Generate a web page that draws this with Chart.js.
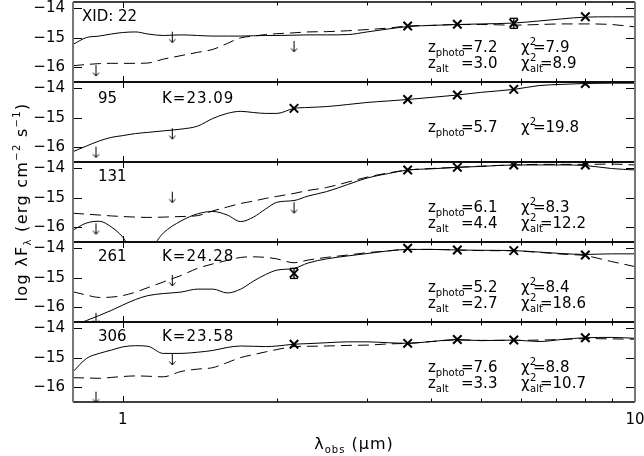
<!DOCTYPE html>
<html>
<head>
<meta charset="utf-8">
<script src="https://cdn.jsdelivr.net/npm/chart.js@4.4.1/dist/chart.umd.min.js"></script>
<style>
  html, body { margin: 0; padding: 0; background: #fff; }
  #wrap { width: 644px; height: 456px; }
</style>
</head>
<body>
<div id="wrap"><canvas id="sed" width="644" height="456"></canvas></div>
<script>
// wavelength grid of the template fits (micron)
const modelLam = [0.8, 0.85, 0.9, 0.95, 1.0, 1.06, 1.12, 1.2, 1.3, 1.4, 1.5, 1.6, 1.7, 1.8, 1.9, 2.0,
  2.16, 2.3, 2.5, 2.75, 3.0, 3.3, 3.6, 4.0, 4.5, 5.0, 5.8, 6.5, 7.2, 8.0, 9.0, 10];

// best fit (solid) and alternative fit (dashed), log lambda F_lambda
const fit22 = [-15.23, -15.00, -14.95, -14.88, -14.83, -14.81, -14.88, -14.93, -14.91, -14.93, -14.95, -14.95, -14.95, -14.94, -14.93, -14.93,
  -14.92, -14.91, -14.91, -14.90, -14.81, -14.71, -14.63, -14.59, -14.56, -14.54, -14.51, -14.44, -14.37, -14.31, -14.30, -14.30];
const alt22 = [-15.95, -15.91, -15.88, -15.87, -15.87, -15.87, -15.86, -15.73, -15.61, -15.50, -15.40, -15.20, -15.01, -14.95, -14.90, -14.87,
  -14.84, -14.81, -14.80, -14.77, -14.73, -14.68, -14.61, -14.59, -14.56, -14.56, -14.58, -14.56, -14.54, -14.54, -14.56, -14.64];
const fit95 = [-16.15, -15.96, -15.79, -15.67, -15.61, -15.54, -15.50, -15.45, -15.39, -15.29, -15.03, -14.86, -14.79, -14.83, -14.86, -14.86,
  -14.69, -14.66, -14.63, -14.56, -14.49, -14.44, -14.39, -14.32, -14.24, -14.15, -14.05, -13.92, -13.88, -13.85, -13.84, -13.84];
const fit131 = [-16.10, -15.86, -15.80, -15.99, -16.33, -16.94, -16.84, -16.20, -15.79, -15.55, -15.47, -15.59, -15.81, -15.66, -15.39, -15.16,
  -15.10, -14.95, -14.80, -14.56, -14.34, -14.19, -14.07, -14.03, -13.98, -13.95, -13.90, -13.90, -13.90, -13.92, -14.02, -14.07];
const alt131 = [-15.53, -15.56, -15.59, -15.62, -15.64, -15.66, -15.67, -15.66, -15.64, -15.61, -15.45, -15.32, -15.20, -15.12, -15.03, -14.96,
  -14.86, -14.76, -14.66, -14.48, -14.31, -14.17, -14.07, -14.02, -13.98, -13.94, -13.90, -13.88, -13.88, -13.88, -13.87, -13.90];
const fit261 = [-16.62, -16.45, -16.28, -16.11, -15.93, -15.74, -15.61, -15.54, -15.49, -15.39, -15.39, -15.52, -15.39, -15.12, -14.90, -14.75,
  -14.69, -14.51, -14.37, -14.27, -14.19, -14.10, -14.05, -14.05, -14.07, -14.08, -14.09, -14.14, -14.19, -14.22, -14.20, -14.20];
const alt261 = [-15.48, -15.59, -15.67, -15.66, -15.61, -15.49, -15.34, -15.15, -14.93, -14.69, -14.54, -14.42, -14.32, -14.30, -14.32, -14.37,
  -14.50, -14.41, -14.32, -14.24, -14.16, -14.10, -14.05, -14.05, -14.07, -14.09, -14.10, -14.15, -14.21, -14.26, -14.46, -14.63];
const fit306 = [-15.48, -15.03, -14.86, -14.75, -14.64, -14.60, -14.62, -14.86, -14.86, -14.82, -14.76, -14.66, -14.61, -14.62, -14.63, -14.61,
  -14.55, -14.53, -14.50, -14.47, -14.47, -14.50, -14.52, -14.46, -14.39, -14.43, -14.41, -14.46, -14.39, -14.33, -14.32, -14.35];
const alt306 = [-15.68, -15.69, -15.70, -15.67, -15.64, -15.62, -15.63, -15.65, -15.47, -15.39, -15.34, -15.17, -15.00, -14.90, -14.81, -14.73,
  -14.63, -14.62, -14.61, -14.59, -14.58, -14.54, -14.52, -14.46, -14.41, -14.42, -14.42, -14.41, -14.39, -14.36, -14.37, -14.38];

// photometry: detections (x), errors, upper limits (arrows)
const detLam = [[3.6, 4.5, 5.8, 8.0], [2.16, 3.6, 4.5, 5.8, 8.0], [3.6, 4.5, 5.8, 8.0], [2.16, 3.6, 4.5, 5.8, 8.0], [2.16, 3.6, 4.5, 5.8, 8.0]];
const detVal = [[-14.61, -14.55, -14.52, -14.30], [-14.69, -14.39, -14.24, -14.05, -13.85], [-14.07, -13.98, -13.90, -13.90],
  [-14.86, -14.01, -14.07, -14.09, -14.24], [-14.55, -14.52, -14.39, -14.41, -14.33]];
const detErr = [[0, 0, 0.17, 0], [0, 0, 0, 0, 0], [0, 0, 0, 0], [0.17, 0, 0, 0, 0], [0, 0, 0, 0, 0]];
const limLam = [[0.887, 1.25, 2.16], [0.887, 1.25], [0.887, 1.25, 2.16], [0.887, 1.25], [0.887, 1.25]];
const limVal = [[-15.93, -14.80, -15.11], [-15.98, -15.36], [-15.87, -14.80, -15.16], [-16.19, -14.91], [-16.15, -14.88]];

// panel texts
const srcIds = ['XID: 22', '95', '131', '261', '306'];
const kMags = ['', 'K=23.09', '', 'K=24.28', 'K=23.58'];
const zPhoto = ['7.2', '5.7', '6.1', '5.2', '7.6'];
const chi2 = ['7.9', '19.8', '8.3', '8.4', '8.8'];
const zAlt = ['3.0', '', '4.4', '2.7', '3.3'];
const chi2Alt = ['8.9', '', '12.2', '18.6', '10.7'];

// axes
const yTicks = [-16, -15, -14];
const xLabelTicks = [1, 10];
const xTickMarks = [1, 2, 3, 4, 5, 6, 7, 8, 9, 10];
const yMin = -16.5, yMax = -13.8;

const FONT = 'DejaVu Sans';
const fits = [fit22, fit95, fit131, fit261, fit306];
const alts = [alt22, null, alt131, alt261, alt306];

function arrowImg() {
  const c = document.createElement('canvas');
  c.width = 11; c.height = 24;
  const g = c.getContext('2d');
  g.strokeStyle = '#000'; g.lineWidth = 1;
  g.beginPath();
  g.moveTo(5.5, 12); g.lineTo(5.5, 23);
  g.moveTo(2.5, 19.5); g.lineTo(5.5, 23); g.lineTo(8.5, 19.5);
  g.stroke();
  return c;
}
const arrow = arrowImg();

const datasets = [];
fits.forEach((fit, i) => {
  datasets.push({
    data: modelLam.map((l, k) => ({ x: l, y: fit[k] })),
    yAxisID: 'y' + i, borderColor: '#000', borderWidth: 1, pointRadius: 0,
    cubicInterpolationMode: 'monotone', clipPanel: true
  });
  if (alts[i]) {
    datasets.push({
      data: modelLam.map((l, k) => ({ x: l, y: alts[i][k] })),
      yAxisID: 'y' + i, borderColor: '#000', borderWidth: 1, borderDash: [11, 6], pointRadius: 0,
      cubicInterpolationMode: 'monotone', clipPanel: true
    });
  }
  datasets.push({
    data: detLam[i].map((l, k) => ({ x: l, y: detVal[i][k] })),
    yAxisID: 'y' + i, showLine: false, pointStyle: 'crossRot', pointRadius: 6,
    pointBorderWidth: 2, pointBorderColor: '#000', borderColor: '#000'
  });
  datasets.push({
    data: limLam[i].map((l, k) => ({ x: l, y: limVal[i][k] })),
    yAxisID: 'y' + i, showLine: false, pointStyle: arrow, pointRadius: 6
  });
});

const scales = {
  x: {
    type: 'logarithmic', position: 'bottom', min: 0.8, max: 10,
    grid: { display: false, drawTicks: false }, border: { display: false },
    afterBuildTicks: s => { s.ticks = xLabelTicks.map(v => ({ value: v })); },
    afterFit: s => { s.height = 54; s.paddingLeft = 0; s.paddingRight = 0; },
    ticks: { callback: v => String(v), color: '#000', font: { family: FONT, size: 15 }, padding: 9, autoSkip: false, maxRotation: 0 }
  }
};
fits.forEach((f, i) => {
  scales['y' + i] = {
    type: 'linear', position: 'left', stack: 'sed', stackWeight: 1, weight: 5 - i, offset: false,
    min: yMin, max: yMax,
    grid: { display: false, drawTicks: false }, border: { display: false },
    afterBuildTicks: s => { s.ticks = yTicks.map(v => ({ value: v })); },
    afterFit: s => { s.width = 73; s.paddingTop = 0; s.paddingBottom = 0; },
    ticks: { display: false }
  };
});

// clip each model curve to its own panel
const panelClip = {
  id: 'panelClip',
  beforeDatasetDraw(chart, args) {
    if (!chart.data.datasets[args.index].clipPanel) return;
    const ys = args.meta.yScale, a = chart.chartArea, ctx = chart.ctx;
    ctx.save();
    ctx.beginPath();
    ctx.rect(a.left, ys.top, a.right - a.left, ys.bottom - ys.top);
    ctx.clip();
  },
  afterDatasetDraw(chart, args) {
    if (chart.data.datasets[args.index].clipPanel) chart.ctx.restore();
  }
};

function rich(ctx, parts, x, y) {
  let cx = x;
  parts.forEach(([t, size, dy]) => {
    ctx.font = size + 'px "' + FONT + '"';
    ctx.fillText(t, cx, y + dy);
    cx += ctx.measureText(t).width;
  });
  return cx;
}
function richWidth(ctx, parts) {
  let w = 0;
  parts.forEach(([t, size]) => { ctx.font = size + 'px "' + FONT + '"'; w += ctx.measureText(t).width; });
  return w;
}

const decor = {
  id: 'decor',
  afterDatasetsDraw(chart) {
    const ctx = chart.ctx, xs = chart.scales.x, a = chart.chartArea;
    const L = a.left, R = a.right;
    ctx.save();
    ctx.fillStyle = '#000';
    ctx.textBaseline = 'alphabetic';
    ctx.textAlign = 'left';
    const line = (x1, y1, x2, y2) => { ctx.beginPath(); ctx.moveTo(x1, y1); ctx.lineTo(x2, y2); ctx.stroke(); };
    for (let i = 0; i < 5; i++) {
      const ys = chart.scales['y' + i];
      const top = ys.top, bot = ys.bottom;
      // ticks and tick labels
      ctx.strokeStyle = '#000'; ctx.lineWidth = 1;
      xTickMarks.forEach(v => {
        const px = Math.round(xs.getPixelForValue(v)) + 0.5;
        const len = xLabelTicks.includes(v) ? 6 : 3.5;
        line(px, top, px, top + len);
        line(px, bot, px, bot - len);
      });
      ctx.font = '15px "' + FONT + '"';
      ctx.textAlign = 'right';
      ctx.textBaseline = 'middle';
      yTicks.forEach(v => {
        const py = Math.round(ys.getPixelForValue(v)) + 0.5;
        line(L, py, L + 9, py);
        line(R, py, R - 9, py);
        ctx.fillText('\u2212' + Math.abs(v), L - 8, py);
      });
      ctx.textAlign = 'left';
      ctx.textBaseline = 'alphabetic';
      // error bars
      ctx.lineWidth = 1.3;
      detErr[i].forEach((e, k) => {
        if (!e) return;
        const px = xs.getPixelForValue(detLam[i][k]);
        const y1 = ys.getPixelForValue(detVal[i][k] + e), y2 = ys.getPixelForValue(detVal[i][k] - e);
        line(px, y1, px, y2);
        line(px - 4, y1, px + 4, y1);
        line(px - 4, y2, px + 4, y2);
      });
      // frame
      ctx.strokeStyle = '#000'; ctx.lineWidth = 1.3;
      line(L, top, R, top);
      line(L, bot, R, bot);
      // texts
      ctx.font = '15px "' + FONT + '"';
      ctx.fillText(srcIds[i], i === 0 ? 82 : 98, top + (i === 1 ? 21 : 19));
      if (kMags[i]) {
        ctx.letterSpacing = '1px';
        ctx.fillText(kMags[i], 162, top + (i === 1 ? 21 : 19));
        ctx.letterSpacing = '0px';
      }
      const b1 = top + 50, b2 = top + 66;
      rich(ctx, [['z', 15, 0], ['photo', 10, 4]], 428, b1);
      rich(ctx, [['=' + zPhoto[i], 15, 0]], 461, b1);
      rich(ctx, [['\u03c7', 15, 0], ['2', 10, -7]], 521, b1);
      rich(ctx, [['=' + chi2[i], 15, 0]], 533, b1);
      if (zAlt[i]) {
        rich(ctx, [['z', 15, 0], ['alt', 10, 4]], 428, b2);
        rich(ctx, [['=' + zAlt[i], 15, 0]], 461, b2);
        rich(ctx, [['\u03c7', 15, 0]], 521, b2);
        rich(ctx, [['2', 10, -7]], 530, b2);
        rich(ctx, [['alt', 10, 4]], 530, b2);
        rich(ctx, [['=' + chi2Alt[i], 15, 0]], 540, b2);
      }
    }
    // side borders
    ctx.strokeStyle = '#777'; ctx.lineWidth = 2;
    line(L, a.top, L, a.bottom);
    line(R, a.top, R, a.bottom);
    // x title
    ctx.letterSpacing = '1px';
    const xt = [['\u03bb', 16, 0], ['obs', 10, 4], [' (', 16, 0], ['\u03bc', 16, 0], ['m)', 16, 0]];
    rich(ctx, xt, (L + R) / 2 - richWidth(ctx, xt) / 2, 449);
    // y title
    ctx.letterSpacing = '1.3px';
    const yt = [['log \u03bbF', 16, 0], ['\u03bb', 10, 4], [' (erg cm', 16, 0], ['\u22122', 10, -7], [' s', 16, 0], ['\u22121', 10, -7], [')', 16, 0]];
    ctx.translate(27, (a.top + a.bottom) / 2);
    ctx.rotate(-Math.PI / 2);
    rich(ctx, yt, -richWidth(ctx, yt) / 2, 0);
    ctx.restore();
  }
};

new Chart(document.getElementById('sed'), {
  type: 'line',
  data: { datasets },
  options: {
    responsive: false, devicePixelRatio: 1, animation: false, events: [],
    layout: { autoPadding: false, padding: { top: 2, right: 9, bottom: 0, left: 0 } },
    plugins: { legend: { display: false }, tooltip: { enabled: false } },
    scales
  },
  plugins: [panelClip, decor]
});
</script>
</body>
</html>
